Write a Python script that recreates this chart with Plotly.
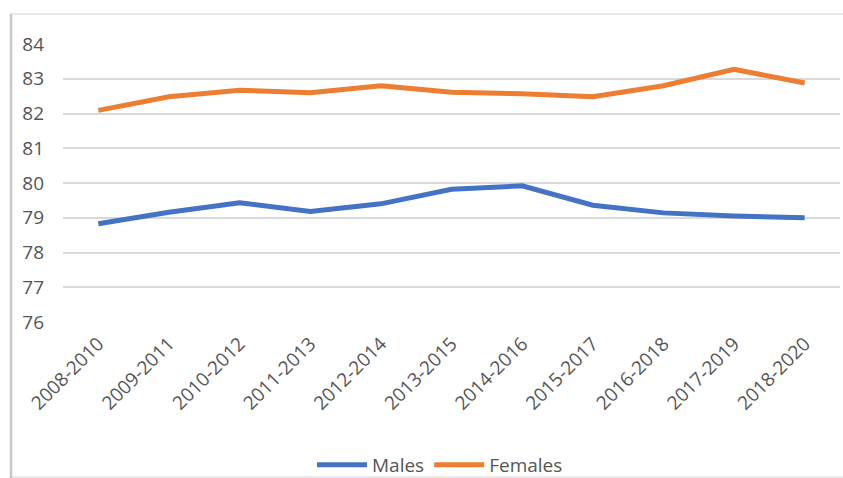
import plotly.graph_objects as go

periods = ["2008-2010", "2009-2011", "2010-2012", "2011-2013", "2012-2014", "2013-2015",
           "2014-2016", "2015-2017", "2016-2018", "2017-2019", "2018-2020"]
males = [78.83, 79.16, 79.43, 79.18, 79.40, 79.82, 79.92, 79.36, 79.14, 79.05, 79.00]
females = [82.09, 82.48, 82.67, 82.60, 82.80, 82.61, 82.57, 82.48, 82.80, 83.27, 82.88]
y_ticks = [76, 77, 78, 79, 80, 81, 82, 83, 84]

W, H = 843, 478
ML, MR, MT, MB = 63, 3, 44, 156
PW, PH = W - ML - MR, H - MT - MB

def px_x(x):
    return (x - ML) / PW

def px_y(y):
    return (H - MB - y) / PH

FONT = "Open Sans, Liberation Sans, sans-serif"
GRAY = "#555555"
FS = 19

fig = go.Figure()
fig.add_trace(go.Scatter(x=periods, y=males, name="Males", mode="lines",
                         line=dict(color="#4472C4", width=5)))
fig.add_trace(go.Scatter(x=periods, y=females, name="Females", mode="lines",
                         line=dict(color="#ED7D31", width=5)))

# chart frame
fig.add_shape(type="rect", xref="paper", yref="paper",
              x0=px_x(11), x1=px_x(860), y0=px_y(477), y1=px_y(14),
              line=dict(color="#e3e3e3", width=1.5), layer="below")
fig.add_shape(type="line", xref="paper", yref="paper",
              x0=px_x(11), x1=px_x(11), y0=px_y(478), y1=px_y(14),
              line=dict(color="#c8c8c8", width=2.5), layer="below")

fig.update_layout(
    width=W, height=H,
    margin=dict(l=ML, r=MR, t=MT, b=MB, autoexpand=False),
    paper_bgcolor="white", plot_bgcolor="white",
    font=dict(family=FONT, size=FS, color=GRAY),
    showlegend=True,
    legend=dict(orientation="h", x=px_x(440), xanchor="center", y=px_y(465), yanchor="middle",
                font=dict(family=FONT, size=FS, color=GRAY), itemwidth=50,
                tracegroupgap=0, bgcolor="rgba(0,0,0,0)"),
    xaxis=dict(type="category", tickangle=-45, showgrid=False, zeroline=False,
               showline=False, ticks="", tickfont=dict(size=FS, color=GRAY),
               ticklabelstandoff=6,
               range=[-0.5, len(periods) - 0.5], automargin=False),
    yaxis=dict(range=[76, 84], tickvals=y_ticks, showgrid=True, gridcolor="#d9d9d9",
               gridwidth=1.5, zeroline=False, showline=False, ticks="",
               ticklabelstandoff=18, tickfont=dict(size=FS, color=GRAY),
               automargin=False),
)

fig.write_html("out.html")
